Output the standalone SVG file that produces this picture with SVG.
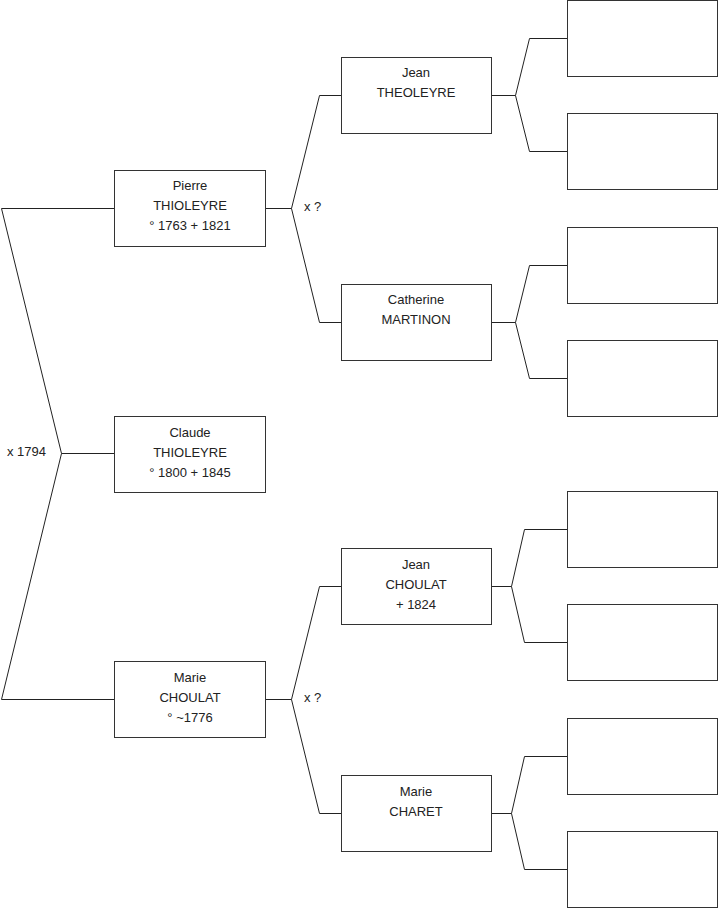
<svg xmlns="http://www.w3.org/2000/svg" width="719" height="908" viewBox="0 0 719 908">
<style>
.box{fill:#fff;stroke:#333;stroke-width:1}
.ln{fill:none;stroke:#222;stroke-width:1}
text{font-family:"Liberation Sans",Arial,sans-serif;font-size:13px;fill:#222}
.c{text-anchor:middle}
</style>
<rect width="719" height="908" fill="#fff"/>
<g id="connectors">
<path class="ln" d="M114.5,208.5 H1.5 L61.5,453.5 L1.5,699.5 H114.5 M61.5,453.5 H114.5"/>
<path class="ln" d="M265.5,208.5 H291.5 M341.5,95.5 H319.5 L291.5,208.5 L319.5,322.5 H341.5"/>
<path class="ln" d="M265.5,699.5 H291.5 M341.5,586.5 H319.5 L291.5,699.5 L319.5,813.5 H341.5"/>
<path class="ln" d="M491.5,95.5 H515.5 M567.5,38.5 H529.5 L515.5,95.5 L529.5,151.5 H567.5"/>
<path class="ln" d="M491.5,322.5 H515.5 M567.5,265.5 H529.5 L515.5,322.5 L529.5,378.5 H567.5"/>
<path class="ln" d="M491.5,586.5 H511.5 M567.5,529.5 H524.5 L511.5,586.5 L524.5,642.5 H567.5"/>
<path class="ln" d="M491.5,813.5 H511.5 M567.5,756.5 H524.5 L511.5,813.5 L524.5,869.5 H567.5"/>
<text x="7" y="456">x 1794</text>
<text x="304" y="211">x ?</text>
<text x="304" y="702">x ?</text>
</g>
<g id="pierre"><rect class="box" x="114.5" y="170.5" width="151" height="76"/>
<text class="c" x="190" y="190">Pierre</text><text class="c" x="190" y="210">THIOLEYRE</text><text class="c" x="190" y="230">° 1763 + 1821</text></g>
<g id="claude"><rect class="box" x="114.5" y="416.5" width="151" height="76"/>
<text class="c" x="190" y="437">Claude</text><text class="c" x="190" y="457">THIOLEYRE</text><text class="c" x="190" y="477">° 1800 + 1845</text></g>
<g id="marie-choulat"><rect class="box" x="114.5" y="661.5" width="151" height="76"/>
<text class="c" x="190" y="682">Marie</text><text class="c" x="190" y="702">CHOULAT</text><text class="c" x="190" y="722">° ~1776</text></g>
<g id="jean-theoleyre"><rect class="box" x="341.5" y="57.5" width="150" height="76"/>
<text class="c" x="416" y="77">Jean</text><text class="c" x="416" y="97">THEOLEYRE</text></g>
<g id="catherine-martinon"><rect class="box" x="341.5" y="284.5" width="150" height="76"/>
<text class="c" x="416" y="304">Catherine</text><text class="c" x="416" y="324">MARTINON</text></g>
<g id="jean-choulat"><rect class="box" x="341.5" y="548.5" width="150" height="76"/>
<text class="c" x="416" y="569">Jean</text><text class="c" x="416" y="589">CHOULAT</text><text class="c" x="416" y="609">+ 1824</text></g>
<g id="marie-charet"><rect class="box" x="341.5" y="775.5" width="150" height="76"/>
<text class="c" x="416" y="796">Marie</text><text class="c" x="416" y="816">CHARET</text></g>
<g id="g3-1"><rect class="box" x="567.5" y="0.5" width="150" height="76"/></g>
<g id="g3-2"><rect class="box" x="567.5" y="113.5" width="150" height="76"/></g>
<g id="g3-3"><rect class="box" x="567.5" y="227.5" width="150" height="76"/></g>
<g id="g3-4"><rect class="box" x="567.5" y="340.5" width="150" height="76"/></g>
<g id="g3-5"><rect class="box" x="567.5" y="491.5" width="150" height="76"/></g>
<g id="g3-6"><rect class="box" x="567.5" y="604.5" width="150" height="76"/></g>
<g id="g3-7"><rect class="box" x="567.5" y="718.5" width="150" height="76"/></g>
<g id="g3-8"><rect class="box" x="567.5" y="831.5" width="150" height="76"/></g>
</svg>
